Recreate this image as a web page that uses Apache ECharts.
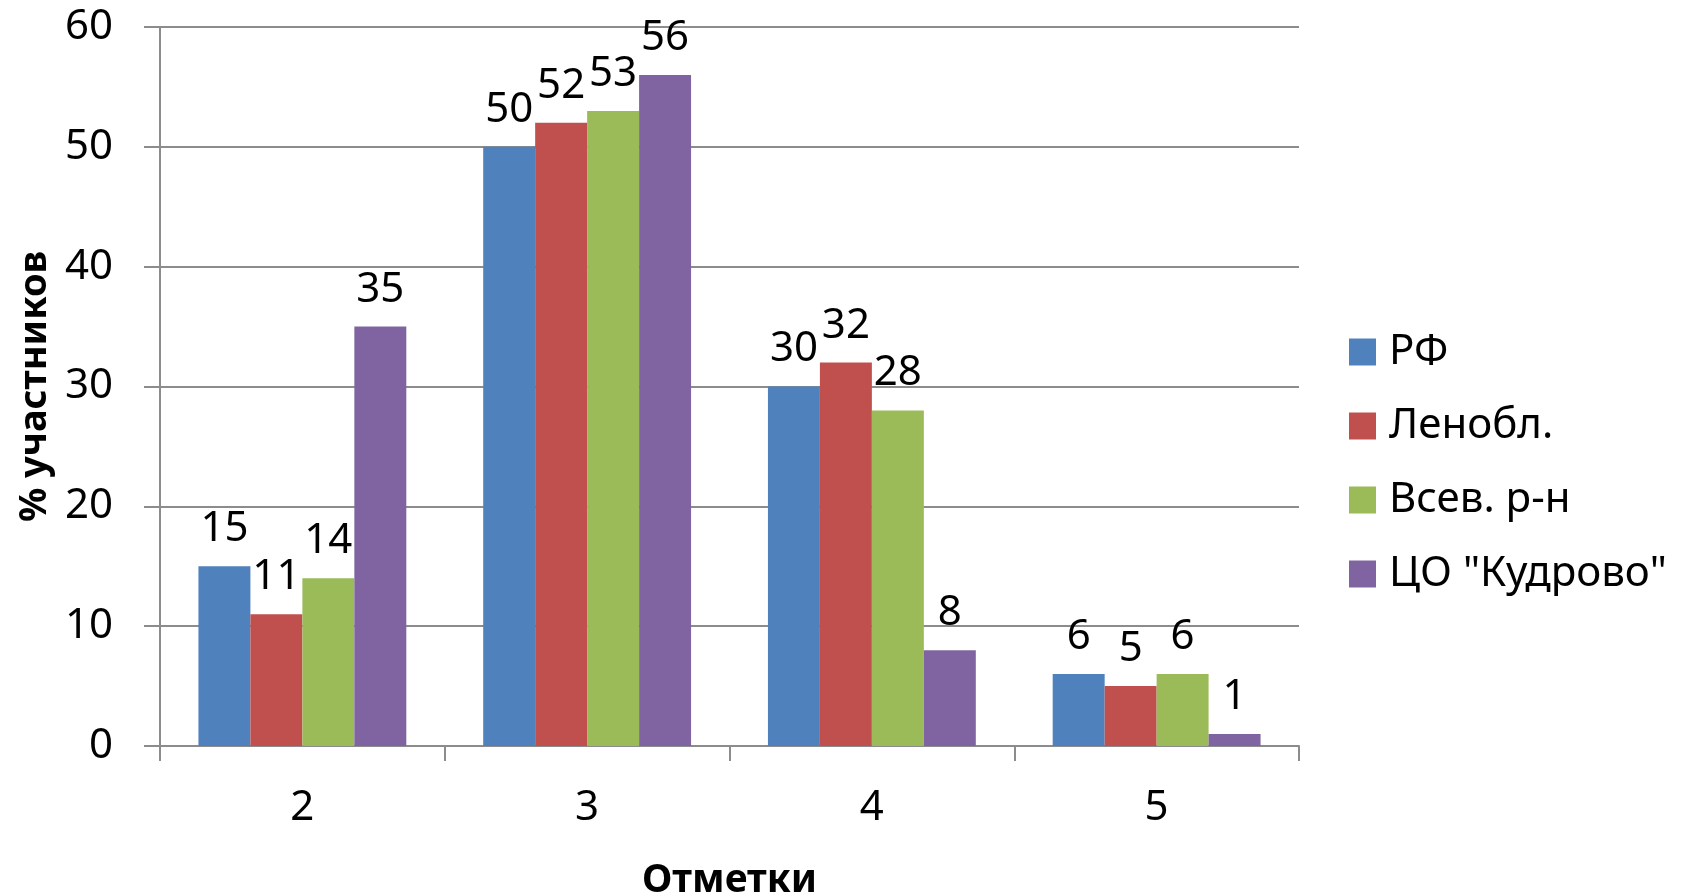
<!DOCTYPE html>
<html>
<head>
<meta charset="utf-8">
<script src="https://cdn.jsdelivr.net/npm/echarts@6/dist/echarts.min.js"></script>
<style>
html,body{margin:0;padding:0;background:#fff;}
#chart{width:1683px;height:894px;}
</style>
</head>
<body>
<div id="chart"></div>
<script>
const categories = ['2', '3', '4', '5'];
const seriesNames = ['РФ', 'Ленобл.', 'Всев. р-н', 'ЦО "Кудрово"'];
const rf = [15, 50, 30, 6];
const lenobl = [11, 52, 32, 5];
const vsev = [14, 53, 28, 6];
const kudrovo = [35, 56, 8, 1];
const yTicks = [0, 10, 20, 30, 40, 50, 60];
const xTitle = 'Отметки';
const yTitle = '% участников';

const colors = ['#4F81BD', '#C0504D', '#9BBB59', '#8064A2'];
const values = [rf, lenobl, vsev, kudrovo];
const font = 'Noto Sans';
const gridColor = '#8c8c8c';

const chart = echarts.init(document.getElementById('chart'));
chart.setOption({
  animation: false,
  textStyle: { fontFamily: font },
  grid: { left: 160, right: 384, top: 27, bottom: 148, containLabel: false, outerBoundsMode: 'none' },
  legend: {
    orient: 'vertical',
    left: 1344,
    top: 326,
    itemWidth: 27,
    itemHeight: 27,
    itemGap: 32,
    icon: 'rect',
    textStyle: { fontFamily: font, fontSize: 42, color: '#000', padding: [0, 0, 0, 8] },
    data: seriesNames
  },
  xAxis: {
    type: 'category',
    data: categories,
    name: xTitle,
    nameLocation: 'middle',
    nameGap: 115,
    nameTextStyle: { fontFamily: font, fontSize: 39, fontWeight: 'bold', color: '#000' },
    axisLine: { lineStyle: { color: gridColor, width: 2 } },
    axisTick: { show: true, alignWithLabel: false, length: 15, lineStyle: { color: gridColor, width: 2 } },
    axisLabel: { fontFamily: font, fontSize: 42, color: '#000', margin: 41 },
    splitLine: { show: false }
  },
  yAxis: {
    type: 'value',
    min: 0,
    max: 60,
    interval: 10,
    name: yTitle,
    nameLocation: 'middle',
    nameGap: 106,
    nameTextStyle: { fontFamily: font, fontSize: 38, fontWeight: 'bold', color: '#000' },
    axisLine: { show: true, lineStyle: { color: gridColor, width: 2 } },
    axisTick: { show: true, length: 16, lineStyle: { color: gridColor, width: 2 } },
    axisLabel: {
      fontFamily: font, fontSize: 42, color: '#000', margin: 47,
      formatter: function (v) { return yTicks.indexOf(v) >= 0 ? String(v) : ''; }
    },
    splitLine: { show: true, lineStyle: { color: gridColor, width: 2 } }
  },
  series: seriesNames.map(function (name, i) {
    return {
      name: name,
      type: 'bar',
      data: values[i],
      barGap: '0%',
      barCategoryGap: '27%',
      itemStyle: { color: colors[i] },
      label: {
        show: true,
        position: 'top',
        distance: 16,
        fontFamily: font,
        fontSize: 42,
        color: '#000'
      }
    };
  })
});
</script>
</body>
</html>
